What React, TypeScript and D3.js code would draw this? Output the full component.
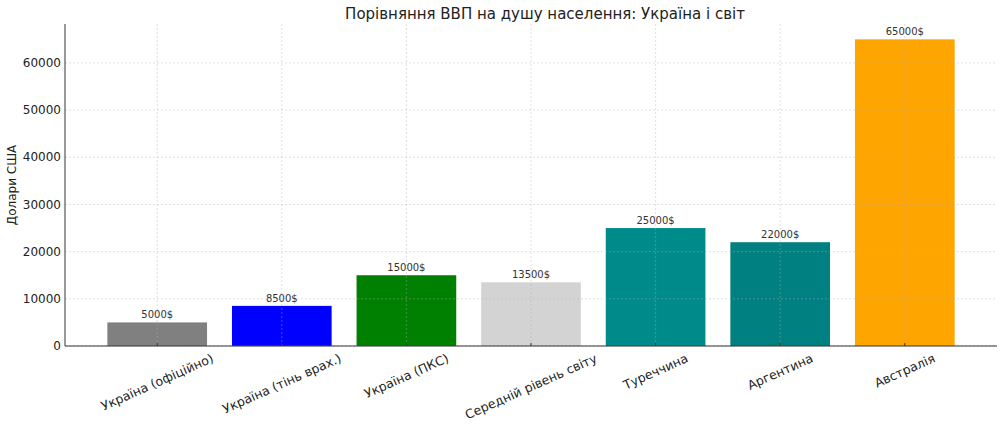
import React, { useLayoutEffect, useRef, useState } from "react";
import * as d3 from "d3";

const categories = [
  "Україна (офіційно)",
  "Україна (тінь врах.)",
  "Україна (ПКС)",
  "Середній рівень світу",
  "Туреччина",
  "Аргентина",
  "Австралія",
];
const values = [5000, 8500, 15000, 13500, 25000, 22000, 65000];
const colors = ["#808080", "#0000ff", "#008000", "#d3d3d3", "#008b8b", "#008080", "#ffa500"];
const yTicks = [0, 10000, 20000, 30000, 40000, 50000, 60000];
const title = "Порівняння ВВП на душу населення: Україна і світ";
const yLabel = "Долари США";

const W = 1004;
const H = 426;
const left = 65;
const right = 997;
const top = 24;
const bottom = 346;
const font = "DejaVu Sans, Verdana, sans-serif";
const ANG = 24;
const LABEL_FS = 12.5;

export default function App() {
  const x = d3
    .scaleBand<string>()
    .domain(categories)
    .range([left, right])
    .paddingInner(0.2)
    .paddingOuter(0.34);
  const yMax = d3.max(values)! * 1.05;
  const y = d3.scaleLinear().domain([0, yMax]).range([bottom, top]);
  const cx = (c: string) => x(c)! + x.bandwidth() / 2;

  const refs = useRef<(SVGTextElement | null)[]>([]);
  const [lens, setLens] = useState<number[]>(categories.map((c) => c.length * 7));
  useLayoutEffect(() => {
    const l = refs.current.map((t, i) => (t ? t.getComputedTextLength() : lens[i]));
    setLens(l);
  }, []);

  const rad = (ANG * Math.PI) / 180;
  const h = LABEL_FS * 0.95;

  return (
    <svg
      width={W}
      height={H}
      style={{ position: "absolute", left: 0, top: 0, background: "#fff" }}
      fontFamily={font}
    >
      <rect x={0} y={0} width={W} height={H} fill="#fff" />
      {categories.map((c, i) => (
        <rect
          key={c}
          x={x(c)}
          y={y(values[i])}
          width={x.bandwidth()}
          height={y(0) - y(values[i])}
          fill={colors[i]}
        />
      ))}
      <g stroke="#b0b0b0" strokeOpacity={0.5} strokeWidth={0.8} strokeDasharray="2,2">
        {yTicks.map((t) => (
          <line key={"gy" + t} x1={left} x2={right} y1={y(t)} y2={y(t)} />
        ))}
        {categories.map((c) => (
          <line key={"gx" + c} x1={cx(c)} x2={cx(c)} y1={top} y2={bottom} />
        ))}
      </g>
      {categories.map((c, i) => (
        <text
          key={"v" + c}
          x={cx(c)}
          y={y(values[i]) - 4}
          textAnchor="middle"
          fontSize={10}
          fill="#333"
        >
          {values[i] + "$"}
        </text>
      ))}
      <line x1={left} x2={left} y1={top} y2={bottom} stroke="#333" strokeWidth={1} />
      <line x1={left} x2={right} y1={bottom} y2={bottom} stroke="#333" strokeWidth={1} />
      {yTicks.map((t) => (
        <text
          key={"yt" + t}
          x={left - 4}
          y={y(t)}
          dy="0.35em"
          textAnchor="end"
          fontSize={12}
          fill="#222"
        >
          {t}
        </text>
      ))}
      {categories.map((c, i) => {
        const bh = lens[i] * Math.sin(rad) + h * Math.cos(rad);
        const cy = bottom + 6 + bh / 2;
        return (
          <g key={"xt" + c}>
            <line x1={cx(c)} x2={cx(c)} y1={bottom} y2={bottom - 3} stroke="#333" strokeWidth={1} />
            <g transform={`translate(${cx(c)},${cy}) rotate(${-ANG})`}>
              <text
                ref={(el) => {
                  refs.current[i] = el;
                }}
                textAnchor="middle"
                dy="0.35em"
                fontSize={LABEL_FS}
                fill="#222"
              >
                {c}
              </text>
            </g>
          </g>
        );
      })}
      <text
        transform={`translate(16,${(top + bottom) / 2}) rotate(-90)`}
        textAnchor="middle"
        fontSize={12}
        fill="#222"
      >
        {yLabel}
      </text>
      <text x={545} y={18.5} textAnchor="middle" fontSize={15} fill="#222">
        {title}
      </text>
    </svg>
  );
}
